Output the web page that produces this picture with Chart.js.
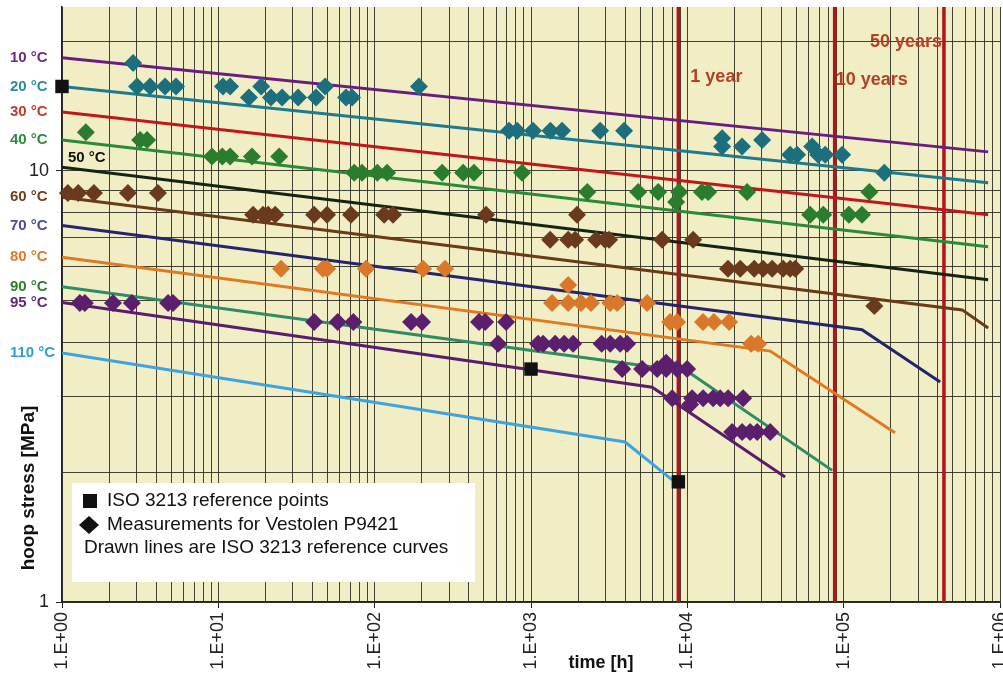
<!DOCTYPE html>
<html>
<head>
<meta charset="utf-8">
<title>hoop stress vs time</title>
<script src="https://cdn.jsdelivr.net/npm/chart.js@4.4.1/dist/chart.umd.min.js"></script>
<style>
    html, body { margin: 0; padding: 0; background: #fff; }
    #wrap { width: 1003px; height: 675px; }
</style>
</head>
<body>
<div id="wrap"><canvas id="stressChart" width="1003" height="675"></canvas></div>
<script>
// axis ranges and tick labels
const xMin = 1, xMax = 1e6
const yMin = 1, yMax = 24
const xLabelValues = [1, 10, 100, 1000, 10000, 100000, 1000000]
const xTickLabels = ['1.E+00', '1.E+01', '1.E+02', '1.E+03', '1.E+04', '1.E+05', '1.E+06']
const yLabelValues = [1, 10]
const yTickLabels = ['1', '10']

// ISO 3213 reference curves [time h, hoop stress MPa]
const curveTemps = ['10 °C', '20 °C', '30 °C', '40 °C', '50 °C', '60 °C', '70 °C', '80 °C', '90 °C', '95 °C', '110 °C']
const ref10 = [[1, 18.3], [840000, 11.07]]
const ref20 = [[1, 15.7], [840000, 9.39]]
const ref30 = [[1, 13.7], [840000, 7.91]]
const ref40 = [[1, 11.8], [840000, 6.67]]
const ref50 = [[1, 10.2], [840000, 5.59]]
const ref60 = [[1, 8.69], [573000, 4.76], [840000, 4.32]]
const ref70 = [[1, 7.47], [131000, 4.28], [414000, 3.24]]
const ref80 = [[1, 6.31], [33900, 3.82], [213000, 2.47]]
const ref90 = [[1, 5.39], [10100, 3.42], [84400, 2.02]]
const ref95 = [[1, 4.95], [5960, 3.15], [42200, 1.95]]
const ref110 = [[1, 3.78], [4000, 2.35], [7990, 1.92]]

// ISO 3213 reference points
const isoPoints = [[1, 15.7], [1000, 3.47], [8760, 1.9]]

// measurements for Vestolen P9421
const meas20 = [[2.85, 17.8], [3.02, 15.7], [3.66, 15.7], [4.56, 15.7], [5.36, 15.7], [10.7, 15.7], [11.9, 15.7],
    [15.7, 14.8], [18.8, 15.7], [21.7, 14.8], [25.6, 14.8], [32.4, 14.8], [42.2, 14.8], [48.2, 15.7], [65.6, 14.8],
    [71.7, 14.8], [192, 15.7], [724, 12.4], [815, 12.4], [1030, 12.4], [1330, 12.4], [1580, 12.4], [2770, 12.4],
    [3940, 12.4], [16700, 11.9], [16700, 11.4], [22400, 11.4], [30100, 11.8], [45500, 10.9], [50400, 10.9],
    [62900, 11.4], [68700, 10.9], [76200, 10.9], [97800, 10.9], [182000, 9.9]]
const meas40 = [[1.42, 12.3], [3.16, 11.8], [3.5, 11.8], [9.1, 10.8], [10.6, 10.8], [11.9, 10.8], [16.4, 10.8],
    [24.5, 10.8], [74, 9.9], [83, 9.9], [104, 9.9], [120, 9.9], [270, 9.9], [368, 9.9], [432, 9.9], [877, 9.9],
    [2290, 8.94], [4850, 8.94], [6510, 8.94], [8870, 8.94], [8480, 8.47], [12400, 8.94], [13600, 8.94],
    [24100, 8.94], [146000, 8.94], [61000, 7.91], [74000, 7.91], [108000, 7.91], [131000, 7.91]]
const meas60 = [[1.09, 8.89], [1.27, 8.89], [1.6, 8.89], [2.64, 8.89], [4.11, 8.89], [16.7, 7.91], [19.3, 7.91],
    [20.8, 7.91], [23.1, 7.91], [41, 7.91], [49.6, 7.91], [70.6, 7.91], [115, 7.91], [131, 7.91], [516, 7.91],
    [1970, 7.91], [1325, 6.92], [1730, 6.92], [1915, 6.92], [2610, 6.92], [2980, 6.92], [3160, 6.92], [6900, 6.92],
    [10900, 6.92], [18200, 5.93], [21800, 5.93], [26800, 5.93], [30500, 5.93], [34900, 5.93], [41000, 5.93],
    [45500, 5.93], [49000, 5.93], [157000, 4.86]]
const meas80 = [[25.2, 5.93], [46.7, 5.93], [49.6, 5.93], [88, 5.93], [204, 5.93], [282, 5.93], [1730, 5.44],
    [1364, 4.94], [1730, 4.94], [2090, 4.94], [2420, 4.94], [3210, 4.94], [3560, 4.94], [5530, 4.94],
    [7760, 4.46], [8600, 4.46], [12600, 4.46], [14800, 4.46], [18500, 4.46], [25600, 3.97], [28400, 3.97]]
const meas95 = [[1.3, 4.94], [1.4, 4.94], [2.12, 4.94], [2.8, 4.94], [4.77, 4.94], [5.13, 4.94], [41, 4.46],
    [58, 4.46], [73, 4.46], [171, 4.46], [201, 4.46], [465, 4.46], [509, 4.46], [693, 4.46], [616, 3.97],
    [1110, 3.97], [1195, 3.97], [1427, 3.97], [1630, 3.97], [1860, 3.97], [2830, 3.97], [3210, 3.97], [3720, 3.97],
    [4120, 3.97], [3830, 3.47], [5140, 3.47], [6410, 3.47], [7320, 3.59], [7320, 3.47], [8600, 3.47], [9970, 3.47],
    [8000, 2.97], [10730, 2.97], [10420, 2.87], [12620, 2.97], [14620, 2.97], [16220, 2.97], [18240, 2.97],
    [22750, 2.97], [19340, 2.48], [22410, 2.48], [25220, 2.48], [27970, 2.48], [33870, 2.48]]

// service life marks
const yearHours = [8760, 87600, 438000]
const yearLabels = ['1 year', '10 years', '50 years']

const refCurves = [ref10, ref20, ref30, ref40, ref50, ref60, ref70, ref80, ref90, ref95, ref110]
const curveColors = ['#6a1d80', '#1f7a8c', '#c2161e', '#2b8a3a', '#142414', '#6b3a16', '#25256e', '#e07a22', '#2f8c66', '#5a1c6e', '#3fa3df']
const labelColors = ['#6a2c80', '#2b8c9e', '#c6382a', '#2e8b3e', '#111111', '#6e3e1e', '#4b4b9b', '#dd7a2a', '#2e7f2e', '#5e2a78', '#2e9ed6']
const measSets = [meas20, meas40, meas60, meas80, meas95]
const measColors = ['#1d6f7e', '#2a7d2e', '#6b3a1e', '#d9782a', '#5b1f6e']

const plotBg = '#f1eec5'
const fontFamily = "Arial, 'Liberation Sans', sans-serif"

let toXY = (arr) => arr.map(p => ({x: p[0], y: p[1]}))

let datasets = []

datasets.push({
    label: 'ISO 3213 reference points',
    data: toXY(isoPoints),
    pointStyle: 'rect',
    pointRadius: 9.5,
    backgroundColor: '#111',
    borderColor: '#111',
    borderWidth: 0,
    clip: false,
    order: 0
})

measSets.forEach((set, i) => {
    datasets.push({
        label: 'Measurements ' + i,
        data: toXY(set),
        pointStyle: 'rectRot',
        pointRadius: 9,
        backgroundColor: measColors[i],
        borderColor: measColors[i],
        borderWidth: 0,
        clip: false,
        order: 1
    })
})

refCurves.forEach((curve, i) => {
    datasets.push({
        label: curveTemps[i],
        data: toXY(curve),
        showLine: true,
        pointRadius: 0,
        borderColor: curveColors[i],
        borderWidth: 3,
        order: 2
    })
})

yearHours.forEach((h, i) => {
    datasets.push({
        label: yearLabels[i],
        data: [{x: h, y: yMin}, {x: h, y: yMax}],
        showLine: true,
        pointRadius: 0,
        borderColor: '#b3131b',
        borderWidth: 3.5,
        order: 3
    })
})

const decor = {
    id: 'decor',
    beforeDraw(chart) {
        const {ctx, chartArea: a} = chart
        ctx.save()
        ctx.fillStyle = plotBg
        ctx.fillRect(a.left, a.top, a.right - a.left, a.bottom - a.top)
        ctx.restore()
    },
    afterDatasetsDraw(chart) {
        const ctx = chart.ctx
        const xs = chart.scales.x, ys = chart.scales.y
        ctx.save()

        // temperature labels next to the curve starts
        ctx.font = 'bold 15px ' + fontFamily
        ctx.textBaseline = 'middle'
        ctx.textAlign = 'left'
        refCurves.forEach((curve, i) => {
            let y = ys.getPixelForValue(curve[0][1])
            let x = 10
            if (curveTemps[i] === '50 °C') { x = 68; y -= 9 }
            ctx.fillStyle = labelColors[i]
            ctx.fillText(curveTemps[i], x, y)
        })

        // year labels
        ctx.fillStyle = '#b5402a'
        ctx.font = 'bold 18px ' + fontFamily
        const yearPos = [[12, 77, 'left'], [1, 80, 'left'], [-2, 42, 'right']]
        yearHours.forEach((h, i) => {
            ctx.textAlign = yearPos[i][2]
            ctx.fillText(yearLabels[i], xs.getPixelForValue(h) + yearPos[i][0], yearPos[i][1])
        })

        // legend box
        ctx.fillStyle = '#ffffff'
        ctx.fillRect(72, 483, 403, 99)
        ctx.fillStyle = '#111'
        ctx.fillRect(83, 494, 14, 14)
        ctx.beginPath()
        ctx.moveTo(89, 516); ctx.lineTo(99, 525); ctx.lineTo(89, 534); ctx.lineTo(79, 525)
        ctx.closePath()
        ctx.fill()
        ctx.font = '19px ' + fontFamily
        ctx.textAlign = 'left'
        ctx.fillText('ISO 3213 reference points', 107, 501)
        ctx.fillText('Measurements for Vestolen P9421', 107, 525)
        ctx.fillText('Drawn lines are ISO 3213 reference curves', 84, 548)

        // axis titles
        ctx.font = 'bold 18px ' + fontFamily
        ctx.textAlign = 'center'
        ctx.fillText('time [h]', 601, 663)
        ctx.translate(29, 488)
        ctx.rotate(-Math.PI / 2)
        ctx.font = 'bold 19px ' + fontFamily
        ctx.fillText('hoop stress [MPa]', 0, 0)
        ctx.restore()
    }
}

let xGrid = []
for (let e = 0; e < 6; e++) {
    for (let s = 1; s < 10; s++) xGrid.push(s * Math.pow(10, e))
}
xGrid.push(xMax)
const yGrid = [1, 2, 3, 4, 5, 6, 7, 8, 9, 10, 20]

Chart.defaults.font.family = fontFamily

let ctx = document.getElementById('stressChart').getContext('2d')
let stressChart = new Chart(ctx, {
    type: 'scatter',
    data: { datasets: datasets },
    options: {
        responsive: false,
        animation: false,
        layout: { autoPadding: false, padding: { top: 7, right: 3, left: 0, bottom: 0 } },
        plugins: {
            legend: { display: false },
            tooltip: { enabled: false }
        },
        scales: {
            x: {
                type: 'logarithmic',
                min: xMin,
                max: xMax,
                afterBuildTicks: (axis) => { axis.ticks = xGrid.map(v => ({value: v})) },
                afterFit: (axis) => { axis.height = 73; axis.paddingLeft = 0; axis.paddingRight = 0 },
                border: { color: '#222', width: 1.5 },
                grid: {
                    color: 'rgba(35, 35, 25, 0.85)',
                    lineWidth: 1,
                    tickLength: 6,
                    tickColor: (c) => xLabelValues.includes(c.tick && c.tick.value) ? '#222' : 'rgba(0,0,0,0)'
                },
                ticks: {
                    autoSkip: false,
                    minRotation: 90,
                    maxRotation: 90,
                    padding: 4,
                    color: '#222',
                    font: { size: 18 },
                    callback: (v) => {
                        const i = xLabelValues.indexOf(v)
                        return i >= 0 ? xTickLabels[i] : ''
                    }
                }
            },
            y: {
                type: 'logarithmic',
                min: yMin,
                max: yMax,
                afterBuildTicks: (axis) => { axis.ticks = yGrid.map(v => ({value: v})) },
                afterFit: (axis) => { axis.width = 62; axis.paddingTop = 0; axis.paddingBottom = 0 },
                border: { color: '#222', width: 1.5 },
                grid: {
                    color: 'rgba(35, 35, 25, 0.85)',
                    lineWidth: 1,
                    tickLength: 6,
                    tickColor: (c) => yLabelValues.includes(c.tick && c.tick.value) ? '#222' : 'rgba(0,0,0,0)'
                },
                ticks: {
                    autoSkip: false,
                    padding: 7,
                    color: '#222',
                    font: { size: 18 },
                    callback: (v) => {
                        const i = yLabelValues.indexOf(v)
                        return i >= 0 ? yTickLabels[i] : ''
                    }
                }
            }
        }
    },
    plugins: [decor]
})
</script>
</body>
</html>
